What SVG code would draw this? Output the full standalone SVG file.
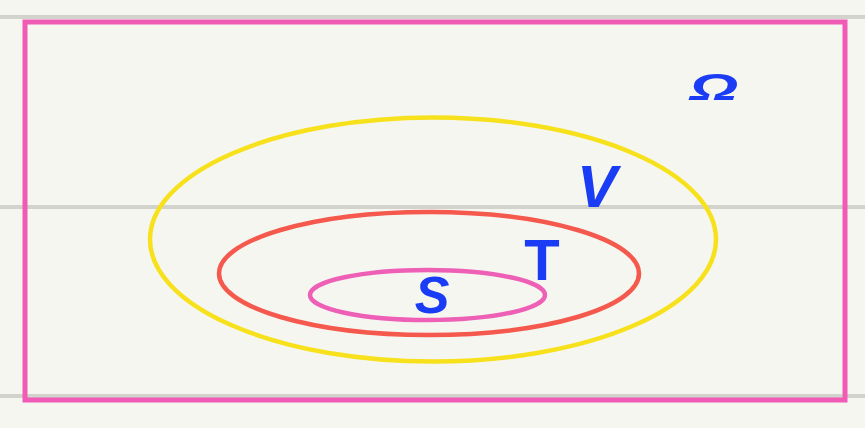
<svg xmlns="http://www.w3.org/2000/svg" width="865" height="428" viewBox="0 0 865 428">
<style>
.rule{stroke:#d3d3cd;stroke-width:4;fill:none}
.set{fill:none;stroke-width:4.5}
.lbl{font-family:"Liberation Sans","DejaVu Sans",sans-serif;fill:#1a3cf5;font-weight:bold;text-anchor:middle}
</style>
<rect x="0" y="0" width="865" height="428" fill="#f6f6f1"/>
<g id="rules">
<line class="rule" x1="0" y1="17" x2="865" y2="17"/>
<line class="rule" x1="0" y1="207" x2="865" y2="207"/>
<line class="rule" x1="0" y1="396" x2="865" y2="396"/>
</g>
<g id="omega">
<rect x="25" y="22" width="820" height="378" fill="none" stroke="#f05bb5" stroke-width="5"/>
<text class="lbl" font-size="50" font-style="italic" transform="translate(714,100) scale(1.25,0.75)">Ω</text>
</g>
<g id="V">
<ellipse class="set" cx="433" cy="239.5" rx="283" ry="122" stroke="#f7e11c"/>
<text class="lbl" x="597" y="207" font-size="60" font-style="italic">V</text>
</g>
<g id="T">
<ellipse class="set" cx="429" cy="273.5" rx="210" ry="61.5" stroke="#f5584c"/>
<text class="lbl" x="542" y="280" font-size="58">T</text>
</g>
<g id="S">
<ellipse class="set" cx="427.5" cy="295" rx="117.5" ry="25" stroke="#ee5fb6"/>
<text class="lbl" x="432" y="313" font-size="52" font-style="italic">S</text>
</g>
<g id="connectors"/>
</svg>
